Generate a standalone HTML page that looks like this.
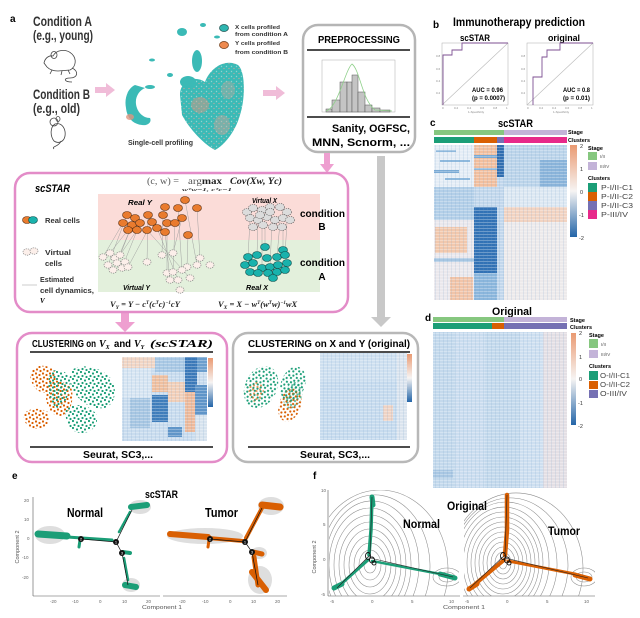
<!DOCTYPE html>
<html><head><meta charset="utf-8"><style>
html,body{margin:0;padding:0;background:#fff;width:640px;height:618px;overflow:hidden;}
svg{display:block;}
text{font-family:"Liberation Sans",sans-serif;}
.b{font-weight:bold;}
.sf{font-family:"Liberation Serif",serif;}
</style></head><body>
<svg width="640" height="618" viewBox="0 0 640 618" xmlns="http://www.w3.org/2000/svg">
<defs>
 <linearGradient id="cb" x1="0" y1="0" x2="0" y2="1">
  <stop offset="0" stop-color="#ea9a72"/>
  <stop offset="0.5" stop-color="#f6f4f3"/>
  <stop offset="1" stop-color="#2465a8"/>
 </linearGradient>
 <pattern id="pg" width="8" height="7" patternUnits="userSpaceOnUse">
  <circle cx="1" cy="1" r="1.1" fill="#1b9e77"/><circle cx="5" cy="2.5" r="1.1" fill="#1b9e77"/>
  <circle cx="2.5" cy="5" r="1.1" fill="#1b9e77"/><circle cx="6.5" cy="6" r="1.1" fill="#1b9e77"/>
 </pattern>
 <pattern id="po" width="7" height="8" patternUnits="userSpaceOnUse">
  <circle cx="2" cy="1.5" r="1.1" fill="#d95f02"/><circle cx="5.5" cy="3" r="1.1" fill="#d95f02"/>
  <circle cx="1" cy="5.5" r="1.1" fill="#d95f02"/><circle cx="4.5" cy="7" r="1.1" fill="#d95f02"/>
 </pattern>
 <pattern id="hs" width="4" height="3" patternUnits="userSpaceOnUse">
  <rect x="0" y="0" width="4" height="0.8" fill="#ffffff" opacity="0.35"/>
  <rect x="3" y="0" width="0.6" height="3" fill="#6d9cc9" opacity="0.25"/>
 </pattern>
 <pattern id="tq" width="5" height="5" patternUnits="userSpaceOnUse">
  <rect width="5" height="5" fill="#3bbab6"/>
  <circle cx="1.5" cy="1.5" r="0.7" fill="#8fd3d0"/><circle cx="4" cy="3.5" r="0.6" fill="#cfa89a"/>
 </pattern>
 <clipPath id="cf1"><rect x="329" y="490" width="130" height="106"/></clipPath>
 <clipPath id="cf2"><rect x="464" y="490" width="131" height="106"/></clipPath>
</defs>

<!-- ================= PANEL a top ================= -->
<text x="10" y="22" class="b" font-size="10">a</text>
<text x="33" y="26" class="b" font-size="14" textLength="59" lengthAdjust="spacingAndGlyphs" fill="#333">Condition A</text>
<text x="33" y="40" class="b" font-size="14" textLength="60" lengthAdjust="spacingAndGlyphs" fill="#333">(e.g., young)</text>
<text x="33" y="99" class="b" font-size="14" textLength="57" lengthAdjust="spacingAndGlyphs" fill="#333">Condition B</text>
<text x="33" y="113" class="b" font-size="14" textLength="47" lengthAdjust="spacingAndGlyphs" fill="#333">(e.g., old)</text>
<!-- mouse 1 -->
<g fill="none" stroke="#444" stroke-width="0.8">
 <path d="M44,63 C45,58 49,55 53,56 C56,50 66,48 72,54 C77,59 76,67 70,70 L58,71 C54,71 50,70 47,67 Z"/>
 <ellipse cx="54" cy="55" rx="3" ry="3.5"/>
 <path d="M52,70 L50,74 M62,71 L61,75 M68,70 L70,74"/>
 <path d="M72,68 C79,71 78,78 70,78 C63,78 64,82 72,82"/>
</g>
<!-- mouse 2 -->
<g fill="none" stroke="#444" stroke-width="0.8">
 <path d="M55,124 C50,127 50,136 54,141 C58,144 64,142 65,136 C66,129 62,122 55,124 Z"/>
 <circle cx="54" cy="122" r="4"/>
 <ellipse cx="58" cy="119" rx="2" ry="2.5"/>
 <path d="M61,141 C59,147 51,146 54,149"/>
</g>
<!-- arrows -->
<path d="M95,87 L106,87 L106,83 L115,90 L106,97 L106,93 L95,93 Z" fill="#f0bcd8"/>
<path d="M263,90 L276,90 L276,86 L285,93 L276,100 L276,96 L263,96 Z" fill="#f0bcd8"/>
<!-- UMAP -->
<g>
 <path d="M180,95 C180,80 195,75 205,82 C210,68 225,58 238,65 C246,72 245,100 240,115 C236,130 225,145 215,150 C205,145 190,130 182,115 Z" fill="url(#tq)"/>
 <path d="M135,85 C128,88 124,98 126,108 C127,118 133,124 142,125 C148,126 152,122 150,118 C143,118 137,112 136,104 C135,96 140,90 145,88 Z" fill="#3bbab6"/>
 <ellipse cx="197" cy="61" rx="5" ry="11" fill="#3bbab6"/>
 <ellipse cx="188" cy="82" rx="8" ry="6" fill="#3bbab6"/>
 <ellipse cx="182" cy="32" rx="5" ry="4" fill="#3bbab6"/>
 <ellipse cx="203" cy="25" rx="3" ry="2" fill="#3bbab6"/>
 <ellipse cx="217" cy="37" rx="3" ry="1.5" fill="#3bbab6"/>
 <ellipse cx="152" cy="60" rx="3" ry="1.5" fill="#3bbab6"/>
 <ellipse cx="170" cy="75" rx="3" ry="2" fill="#3bbab6"/>
 <ellipse cx="150" cy="87" rx="5" ry="2" fill="#3bbab6"/>
 <ellipse cx="200" cy="105" rx="9" ry="8" fill="#e0957f" opacity="0.45"/>
 <ellipse cx="222" cy="125" rx="8" ry="10" fill="#d9a396" opacity="0.4"/>
 <ellipse cx="228" cy="90" rx="7" ry="9" fill="#cfa59a" opacity="0.35"/>
 <ellipse cx="130" cy="117" rx="4" ry="3" fill="#e0957f" opacity="0.8"/>
</g>
<ellipse cx="224" cy="28" rx="4.5" ry="3.5" fill="#2fb5b0" stroke="#1d4f4e" stroke-width="0.7"/>
<ellipse cx="224" cy="45" rx="4.5" ry="3.5" fill="#ee8a4f" stroke="#6b3510" stroke-width="0.7"/>
<text x="235" y="29" class="b" font-size="5.5" textLength="45" lengthAdjust="spacingAndGlyphs" fill="#333">X cells profiled</text>
<text x="235" y="36" class="b" font-size="5.5" textLength="53" lengthAdjust="spacingAndGlyphs" fill="#333">from condition A</text>
<text x="235" y="45" class="b" font-size="5.5" textLength="45" lengthAdjust="spacingAndGlyphs" fill="#333">Y cells profiled</text>
<text x="235" y="54" class="b" font-size="5.5" textLength="53" lengthAdjust="spacingAndGlyphs" fill="#333">from condition B</text>
<text x="128" y="145" class="b" font-size="7" textLength="65" lengthAdjust="spacingAndGlyphs" fill="#333">Single-cell profiling</text>

<!-- PREPROCESSING -->
<rect x="303" y="25" width="112" height="127" rx="15" fill="#fff" stroke="#b5b5b5" stroke-width="2.5"/>
<text x="318" y="43" class="b" font-size="10" textLength="82" lengthAdjust="spacingAndGlyphs">PREPROCESSING</text>
<line x1="307" y1="50" x2="410" y2="50" stroke="#111" stroke-width="1.5"/>
<rect x="322" y="60" width="73" height="52" fill="none" stroke="#aaa" stroke-width="0.5"/>
<g fill="#c4c4c4" stroke="#555" stroke-width="0.5">
 <rect x="326" y="109" width="6" height="3"/>
 <rect x="332" y="100" width="8" height="12"/>
 <rect x="340" y="82" width="7" height="30"/>
 <rect x="347" y="82" width="5" height="30"/>
 <rect x="352" y="75" width="6" height="37"/>
 <rect x="358" y="92" width="7" height="20"/>
 <rect x="365" y="105" width="7" height="7"/>
 <rect x="372" y="108" width="8" height="4"/>
 <rect x="380" y="110" width="10" height="2"/>
</g>
<path d="M326,111 C338,108 345,70 352,64 C360,70 362,100 375,110 L392,111" fill="none" stroke="#8fd08a" stroke-width="0.8"/>
<line x1="307" y1="117" x2="410" y2="117" stroke="#111" stroke-width="1.5"/>
<text x="332" y="132" class="b" font-size="11" textLength="78" lengthAdjust="spacingAndGlyphs">Sanity, OGFSC,</text>
<text x="312" y="146" class="b" font-size="11" textLength="98" lengthAdjust="spacingAndGlyphs">MNN, Scnorm, ...</text>

<!-- arrows down -->
<path d="M324,153 L330,153 L330,164 L334,164 L327,173 L320,164 L324,164 Z" fill="#ee9fd0"/>
<path d="M377,156 L385,156 L385,317 L391,317 L381,327 L371,317 L377,317 Z" fill="#c8c8c8"/>
<path d="M121,313 L129,313 L129,322 L135,322 L125,332 L115,322 L121,322 Z" fill="#ee9fd0"/>

<!-- ================= scSTAR box ================= -->
<rect x="15" y="173" width="333" height="139" rx="15" fill="#fff" stroke="#e38cc8" stroke-width="2.5"/>
<rect x="98" y="194" width="222" height="46" fill="#fbdcd8"/>
<rect x="98" y="240" width="222" height="52" fill="#e3f0dc"/>
<text x="35" y="192" class="b" font-size="11" font-style="italic" textLength="35" lengthAdjust="spacingAndGlyphs">scSTAR</text>
<text x="147" y="184" class="sf" font-size="9" fill="#555" textLength="32" lengthAdjust="spacingAndGlyphs">(c, w) =</text>
<text x="188" y="184" class="sf" font-size="9" fill="#555" textLength="34" lengthAdjust="spacingAndGlyphs">arg<tspan font-weight="bold" fill="#222">max</tspan></text>
<text x="230" y="184" class="sf" font-size="9" font-weight="bold" font-style="italic" fill="#222" textLength="52" lengthAdjust="spacingAndGlyphs">Cov(Xw, Yc)</text>
<text x="182" y="191" class="sf" font-size="4.5" font-weight="bold" font-style="italic" fill="#333" textLength="50" lengthAdjust="spacingAndGlyphs">wᵀw=1, cᵀc=1</text>

<!-- lines orange -> virtual Y -->
<g stroke="#9a9a9a" stroke-width="0.45">
 <line x1="127" y1="215" x2="108" y2="265"/><line x1="135" y1="218" x2="113" y2="270"/>
 <line x1="123" y1="223" x2="103" y2="257"/><line x1="132" y1="225" x2="117" y2="263"/>
 <line x1="140" y1="223" x2="122" y2="268"/><line x1="148" y1="215" x2="147" y2="262"/>
 <line x1="152" y1="222" x2="128" y2="267"/><line x1="163" y1="215" x2="162" y2="255"/>
 <line x1="167" y1="223" x2="167" y2="273"/><line x1="175" y1="223" x2="173" y2="272"/>
 <line x1="182" y1="218" x2="173" y2="253"/><line x1="178" y1="208" x2="182" y2="270"/>
 <line x1="197" y1="208" x2="200" y2="258"/><line x1="185" y1="200" x2="197" y2="265"/>
 <line x1="188" y1="235" x2="187" y2="267"/><line x1="157" y1="228" x2="178" y2="280"/>
 <line x1="165" y1="232" x2="170" y2="280"/><line x1="147" y1="230" x2="190" y2="278"/>
 <line x1="128" y1="230" x2="110" y2="253"/><line x1="137" y1="230" x2="120" y2="255"/>
</g>
<g fill="#e97b2e" stroke="#5e3010" stroke-width="0.6">
 <ellipse cx="185" cy="200" rx="4.5" ry="3.5"/><ellipse cx="165" cy="207" rx="4.5" ry="3.5"/>
 <ellipse cx="178" cy="208" rx="4.5" ry="3.5"/><ellipse cx="197" cy="208" rx="4.5" ry="3.5"/>
 <ellipse cx="127" cy="215" rx="4.5" ry="3.5"/><ellipse cx="135" cy="218" rx="4.5" ry="3.5"/>
 <ellipse cx="148" cy="215" rx="4.5" ry="3.5"/><ellipse cx="163" cy="215" rx="4.5" ry="3.5"/>
 <ellipse cx="182" cy="218" rx="4.5" ry="3.5"/><ellipse cx="123" cy="223" rx="4.5" ry="3.5"/>
 <ellipse cx="132" cy="225" rx="4.5" ry="3.5"/><ellipse cx="140" cy="223" rx="4.5" ry="3.5"/>
 <ellipse cx="152" cy="222" rx="4.5" ry="3.5"/><ellipse cx="167" cy="223" rx="4.5" ry="3.5"/>
 <ellipse cx="175" cy="223" rx="4.5" ry="3.5"/><ellipse cx="128" cy="230" rx="4.5" ry="3.5"/>
 <ellipse cx="137" cy="230" rx="4.5" ry="3.5"/><ellipse cx="147" cy="230" rx="4.5" ry="3.5"/>
 <ellipse cx="157" cy="228" rx="4.5" ry="3.5"/><ellipse cx="165" cy="232" rx="4.5" ry="3.5"/>
 <ellipse cx="188" cy="235" rx="4.5" ry="3.5"/>
</g>
<g fill="#fcefea" stroke="#777" stroke-width="0.6" stroke-dasharray="1.3 0.9">
 <ellipse cx="103" cy="257" rx="4" ry="3.2"/><ellipse cx="110" cy="253" rx="4" ry="3.2"/>
 <ellipse cx="115" cy="258" rx="4" ry="3.2"/><ellipse cx="120" cy="255" rx="4" ry="3.2"/>
 <ellipse cx="108" cy="265" rx="4" ry="3.2"/><ellipse cx="117" cy="263" rx="4" ry="3.2"/>
 <ellipse cx="125" cy="262" rx="4" ry="3.2"/><ellipse cx="113" cy="270" rx="4" ry="3.2"/>
 <ellipse cx="122" cy="268" rx="4" ry="3.2"/><ellipse cx="128" cy="267" rx="4" ry="3.2"/>
 <ellipse cx="147" cy="262" rx="4" ry="3.2"/><ellipse cx="162" cy="255" rx="4" ry="3.2"/>
 <ellipse cx="173" cy="253" rx="4" ry="3.2"/><ellipse cx="200" cy="258" rx="4" ry="3.2"/>
 <ellipse cx="197" cy="265" rx="4" ry="3.2"/><ellipse cx="187" cy="267" rx="4" ry="3.2"/>
 <ellipse cx="210" cy="265" rx="4" ry="3.2"/><ellipse cx="167" cy="273" rx="4" ry="3.2"/>
 <ellipse cx="173" cy="272" rx="4" ry="3.2"/><ellipse cx="182" cy="270" rx="4" ry="3.2"/>
 <ellipse cx="170" cy="280" rx="4" ry="3.2"/><ellipse cx="178" cy="280" rx="4" ry="3.2"/>
 <ellipse cx="190" cy="278" rx="4" ry="3.2"/><ellipse cx="180" cy="290" rx="4" ry="3.2"/>
</g>
<text x="128" y="205" class="b" font-size="7" font-style="italic" textLength="24" lengthAdjust="spacingAndGlyphs">Real Y</text>
<text x="123" y="290" class="b" font-size="7" font-style="italic" textLength="27" lengthAdjust="spacingAndGlyphs">Virtual Y</text>

<g stroke="#9a9a9a" stroke-width="0.45">
 <line x1="250" y1="220" x2="248" y2="257"/><line x1="258" y1="222" x2="257" y2="255"/>
 <line x1="265" y1="225" x2="265" y2="247"/><line x1="272" y1="222" x2="270" y2="267"/>
 <line x1="280" y1="222" x2="277" y2="257"/><line x1="287" y1="222" x2="285" y2="255"/>
 <line x1="262" y1="227" x2="262" y2="268"/><line x1="283" y1="227" x2="283" y2="250"/>
</g>
<g fill="#dcdcdc" stroke="#555" stroke-width="0.6" stroke-dasharray="1.3 0.9">
 <ellipse cx="247" cy="212" rx="4.5" ry="3.5"/><ellipse cx="253" cy="208" rx="4.5" ry="3.5"/>
 <ellipse cx="262" cy="210" rx="4.5" ry="3.5"/><ellipse cx="270" cy="207" rx="4.5" ry="3.5"/>
 <ellipse cx="280" cy="207" rx="4.5" ry="3.5"/><ellipse cx="287" cy="212" rx="4.5" ry="3.5"/>
 <ellipse cx="250" cy="218" rx="4.5" ry="3.5"/><ellipse cx="258" cy="220" rx="4.5" ry="3.5"/>
 <ellipse cx="267" cy="217" rx="4.5" ry="3.5"/><ellipse cx="275" cy="220" rx="4.5" ry="3.5"/>
 <ellipse cx="283" cy="218" rx="4.5" ry="3.5"/><ellipse cx="290" cy="220" rx="4.5" ry="3.5"/>
 <ellipse cx="253" cy="227" rx="4.5" ry="3.5"/><ellipse cx="263" cy="225" rx="4.5" ry="3.5"/>
 <ellipse cx="273" cy="227" rx="4.5" ry="3.5"/><ellipse cx="282" cy="227" rx="4.5" ry="3.5"/>
 <ellipse cx="270" cy="212" rx="4.5" ry="3.5"/><ellipse cx="260" cy="215" rx="4.5" ry="3.5"/>
</g>
<g fill="#19b2ac" stroke="#0d4f4d" stroke-width="0.6">
 <ellipse cx="265" cy="247" rx="4.5" ry="3.5"/><ellipse cx="283" cy="250" rx="4.5" ry="3.5"/>
 <ellipse cx="248" cy="257" rx="4.5" ry="3.5"/><ellipse cx="257" cy="255" rx="4.5" ry="3.5"/>
 <ellipse cx="267" cy="258" rx="4.5" ry="3.5"/><ellipse cx="277" cy="257" rx="4.5" ry="3.5"/>
 <ellipse cx="285" cy="255" rx="4.5" ry="3.5"/><ellipse cx="245" cy="265" rx="4.5" ry="3.5"/>
 <ellipse cx="253" cy="263" rx="4.5" ry="3.5"/><ellipse cx="262" cy="268" rx="4.5" ry="3.5"/>
 <ellipse cx="270" cy="267" rx="4.5" ry="3.5"/><ellipse cx="278" cy="265" rx="4.5" ry="3.5"/>
 <ellipse cx="287" cy="263" rx="4.5" ry="3.5"/><ellipse cx="250" cy="272" rx="4.5" ry="3.5"/>
 <ellipse cx="258" cy="273" rx="4.5" ry="3.5"/><ellipse cx="268" cy="273" rx="4.5" ry="3.5"/>
 <ellipse cx="277" cy="272" rx="4.5" ry="3.5"/><ellipse cx="285" cy="270" rx="4.5" ry="3.5"/>
 <ellipse cx="273" cy="278" rx="4.5" ry="3.5"/>
</g>
<text x="252" y="203" class="b" font-size="7" font-style="italic" textLength="25" lengthAdjust="spacingAndGlyphs">Virtual X</text>
<text x="246" y="290" class="b" font-size="7" font-style="italic" textLength="22" lengthAdjust="spacingAndGlyphs">Real X</text>
<text x="300" y="217" class="b" font-size="10" textLength="45" lengthAdjust="spacingAndGlyphs">condition</text>
<text x="322" y="230" class="b" font-size="10" text-anchor="middle">B</text>
<text x="300" y="266" class="b" font-size="10" textLength="45" lengthAdjust="spacingAndGlyphs">condition</text>
<text x="322" y="280" class="b" font-size="10" text-anchor="middle">A</text>
<!-- legend -->
<ellipse cx="27" cy="220" rx="4.5" ry="3.5" fill="#e97b2e" stroke="#5e3010" stroke-width="0.6"/>
<ellipse cx="33" cy="220" rx="4.5" ry="3.5" fill="#19b2ac" stroke="#0d4f4d" stroke-width="0.6"/>
<text x="45" y="223" class="b" font-size="7" textLength="35" lengthAdjust="spacingAndGlyphs" fill="#333">Real cells</text>
<ellipse cx="27" cy="252" rx="4" ry="3.2" fill="#fcefea" stroke="#777" stroke-width="0.6" stroke-dasharray="1.3 0.9"/>
<ellipse cx="34" cy="251" rx="4" ry="3.2" fill="#fcefea" stroke="#777" stroke-width="0.6" stroke-dasharray="1.3 0.9"/>
<text x="45" y="255" class="b" font-size="7" textLength="26" lengthAdjust="spacingAndGlyphs" fill="#333">Virtual</text>
<text x="45" y="266" class="b" font-size="7" textLength="17" lengthAdjust="spacingAndGlyphs" fill="#333">cells</text>
<line x1="22" y1="285" x2="37" y2="285" stroke="#aaa" stroke-width="0.6"/>
<text x="40" y="282" class="b" font-size="7" textLength="34" lengthAdjust="spacingAndGlyphs" fill="#333">Estimated</text>
<text x="40" y="293" class="b" font-size="7" textLength="54" lengthAdjust="spacingAndGlyphs" fill="#333">cell dynamics,</text>
<text x="40" y="303" class="b sf" font-size="7" font-style="italic">V</text>
<text x="110" y="307" class="sf" font-size="8.5" font-weight="bold" font-style="italic" fill="#222">V<tspan font-size="5.5" dy="2">Y</tspan><tspan dy="-2"> = Y − c</tspan><tspan font-size="5" dy="-3">T</tspan><tspan dy="3">(c</tspan><tspan font-size="5" dy="-3">T</tspan><tspan dy="3">c)</tspan><tspan font-size="5" dy="-3">−1</tspan><tspan dy="3">cY</tspan></text>
<text x="218" y="307" class="sf" font-size="8.5" font-weight="bold" font-style="italic" fill="#222">V<tspan font-size="5.5" dy="2">X</tspan><tspan dy="-2"> = X − w</tspan><tspan font-size="5" dy="-3">T</tspan><tspan dy="3">(w</tspan><tspan font-size="5" dy="-3">T</tspan><tspan dy="3">w)</tspan><tspan font-size="5" dy="-3">−1</tspan><tspan dy="3">wX</tspan></text>

<!-- ================= Clustering boxes ================= -->
<rect x="17" y="333" width="210" height="129" rx="15" fill="#fff" stroke="#e38cc8" stroke-width="2.5"/>
<text x="32" y="347" class="b" font-size="10" textLength="64" lengthAdjust="spacingAndGlyphs">CLUSTERING on</text>
<text x="99" y="347" class="sf" font-size="10" font-weight="bold" font-style="italic">V<tspan font-size="6" dy="2">X</tspan></text>
<text x="114" y="347" class="b" font-size="10" textLength="17" lengthAdjust="spacingAndGlyphs">and</text>
<text x="134" y="347" class="sf" font-size="10" font-weight="bold" font-style="italic">V<tspan font-size="6" dy="2">Y</tspan></text>
<text x="150" y="347" class="sf" font-size="10" font-weight="bold" font-style="italic" textLength="63" lengthAdjust="spacingAndGlyphs">(scSTAR)</text>
<line x1="30" y1="352" x2="213" y2="352" stroke="#111" stroke-width="1.5"/>
<!-- tSNE scatter -->
<path d="M30,372 C34,364 48,364 54,370 C58,378 56,390 48,393 C38,394 30,386 30,372 Z" fill="url(#po)"/>
<path d="M24,415 C26,408 40,407 48,412 C52,418 48,428 38,429 C28,429 23,422 24,415 Z" fill="url(#po)"/>
<path d="M46,384 C52,378 68,380 72,390 C74,402 70,414 60,416 C50,416 44,404 46,384 Z" fill="url(#po)"/>
<path d="M72,370 C82,362 104,368 112,380 C118,392 114,406 104,408 C92,410 80,402 74,392 C70,384 68,376 72,370 Z" fill="url(#pg)"/>
<path d="M66,410 C72,402 90,404 96,414 C100,424 92,434 80,433 C70,432 64,420 66,410 Z" fill="url(#pg)"/>
<path d="M50,372 C56,368 66,370 70,378 C72,390 66,404 58,408 C50,406 46,388 50,372 Z" fill="url(#pg)"/>
<!-- heatmap 1 -->
<rect x="122" y="357" width="85" height="84" fill="#c9dcee"/>
<rect x="122" y="357" width="33" height="11" fill="#f1d5c4"/>
<rect x="122" y="368" width="30" height="30" fill="#d7e5f2"/>
<rect x="155" y="357" width="30" height="15" fill="#a9c8e4"/>
<rect x="185" y="357" width="12" height="35" fill="#3a78b8"/>
<rect x="197" y="357" width="10" height="15" fill="#6c9fce"/>
<rect x="152" y="375" width="16" height="17" fill="#efbf9f"/>
<rect x="168" y="382" width="17" height="20" fill="#f2cfb8"/>
<rect x="152" y="395" width="16" height="27" fill="#3f7dbb"/>
<rect x="185" y="392" width="10" height="40" fill="#eeb99a"/>
<rect x="195" y="385" width="12" height="30" fill="#5e94c8"/>
<rect x="130" y="398" width="20" height="30" fill="#a7c6e2"/>
<rect x="168" y="427" width="14" height="10" fill="#5f95c8"/>
<rect x="195" y="415" width="12" height="26" fill="#d7e3ee"/>
<rect x="122" y="357" width="85" height="84" fill="url(#hs)"/>
<rect x="208" y="358" width="5" height="49" fill="url(#cb)"/>
<line x1="30" y1="447" x2="213" y2="447" stroke="#111" stroke-width="1.5"/>
<text x="83" y="458" class="b" font-size="10" textLength="70" lengthAdjust="spacingAndGlyphs">Seurat, SC3,...</text>

<rect x="233" y="333" width="185" height="129" rx="15" fill="#fff" stroke="#b8b8b8" stroke-width="2.5"/>
<text x="248" y="347" class="b" font-size="10" textLength="162" lengthAdjust="spacingAndGlyphs">CLUSTERING on X and Y (original)</text>
<line x1="248" y1="352" x2="410" y2="352" stroke="#111" stroke-width="1.5"/>
<ellipse cx="261" cy="387" rx="16" ry="22" transform="rotate(25 261 387)" fill="url(#pg)"/>
<ellipse cx="256" cy="392" rx="8" ry="10" fill="url(#po)" opacity="0.6"/>
<ellipse cx="293" cy="384" rx="12" ry="18" transform="rotate(20 293 384)" fill="url(#pg)"/>
<ellipse cx="290" cy="405" rx="11" ry="17" transform="rotate(20 290 405)" fill="url(#po)"/>
<ellipse cx="293" cy="395" rx="9" ry="14" transform="rotate(20 293 395)" fill="url(#pg)" opacity="0.7"/>
<rect x="320" y="353" width="87" height="87" fill="#c7dbee"/>
<rect x="320" y="353" width="87" height="28" fill="#cfe0f0"/>
<rect x="383" y="405" width="10" height="16" fill="#efd3c4"/>
<rect x="397" y="353" width="10" height="87" fill="#dbe4ee"/>
<rect x="320" y="353" width="87" height="87" fill="url(#hs)"/>
<rect x="407" y="354" width="5" height="48" fill="url(#cb)"/>
<line x1="248" y1="447" x2="410" y2="447" stroke="#111" stroke-width="1.5"/>
<text x="300" y="458" class="b" font-size="10" textLength="70" lengthAdjust="spacingAndGlyphs">Seurat, SC3,...</text>

<!-- ================= Panel b ================= -->
<text x="433" y="28" class="b" font-size="10">b</text>
<text x="453" y="26" class="b" font-size="12" textLength="132" lengthAdjust="spacingAndGlyphs">Immunotherapy prediction</text>
<text x="460" y="41" class="b" font-size="9.5" textLength="30" lengthAdjust="spacingAndGlyphs">scSTAR</text>
<text x="548" y="41" class="b" font-size="9.5" textLength="32" lengthAdjust="spacingAndGlyphs">original</text>
<rect x="442" y="43" width="66" height="62" fill="none" stroke="#aaa" stroke-width="0.5"/>
<line x1="442" y1="105" x2="508" y2="43" stroke="#bbb" stroke-width="0.6"/>
<path d="M443,105 L443,55 L452,55 L452,50 L462,50 L462,43 L508,43" fill="none" stroke="#7d4f92" stroke-width="0.9"/>
<text x="472" y="92" class="b" font-size="6" textLength="31" lengthAdjust="spacingAndGlyphs">AUC = 0.96</text>
<text x="472" y="100" class="b" font-size="6" textLength="33" lengthAdjust="spacingAndGlyphs">(p = 0.0007)</text>
<rect x="527" y="43" width="66" height="62" fill="none" stroke="#aaa" stroke-width="0.5"/>
<line x1="527" y1="105" x2="593" y2="43" stroke="#bbb" stroke-width="0.6"/>
<path d="M533,105 L533,77 L542,77 L542,57 L547,57 L547,50 L560,50 L560,43 L593,43" fill="none" stroke="#7d4f92" stroke-width="0.9"/>
<text x="563" y="92" class="b" font-size="6" textLength="27" lengthAdjust="spacingAndGlyphs">AUC = 0.8</text>
<text x="563" y="100" class="b" font-size="6" textLength="27" lengthAdjust="spacingAndGlyphs">(p = 0.01)</text>
<g font-size="3" fill="#888">
 <text x="442" y="109">0</text><text x="454" y="109">0.2</text><text x="467" y="109">0.4</text><text x="480" y="109">0.6</text><text x="493" y="109">0.8</text><text x="506" y="109">1</text>
 <text x="468" y="113">1-Specificity</text>
 <text x="527" y="109">0</text><text x="539" y="109">0.2</text><text x="552" y="109">0.4</text><text x="565" y="109">0.6</text><text x="578" y="109">0.8</text><text x="591" y="109">1</text>
 <text x="553" y="113">1-Specificity</text>
 <text x="436" y="57">0.8</text><text x="436" y="70">0.6</text><text x="436" y="82">0.4</text><text x="436" y="94">0.2</text>
 <text x="521" y="57">0.8</text><text x="521" y="70">0.6</text><text x="521" y="82">0.4</text><text x="521" y="94">0.2</text>
</g>

<!-- ================= Panel c ================= -->
<text x="430" y="126" class="b" font-size="10">c</text>
<text x="498" y="127" class="b" font-size="11" textLength="35" lengthAdjust="spacingAndGlyphs">scSTAR</text>
<rect x="434" y="130" width="70" height="5" fill="#86c77f"/>
<rect x="504" y="130" width="63" height="5" fill="#c3b3d8"/>
<rect x="434" y="137" width="40" height="6" fill="#1b9e77"/>
<rect x="474" y="137" width="23" height="6" fill="#d95f02"/>
<rect x="497" y="137" width="7" height="6" fill="#7570b3"/>
<rect x="504" y="137" width="63" height="6" fill="#e7298a"/>
<text x="568" y="134" class="b" font-size="5.5">Stage</text>
<text x="568" y="142" class="b" font-size="5.5">Clusters</text>
<rect x="434" y="145" width="133" height="155" fill="#dfe9f3"/>
<rect x="434" y="145" width="40" height="42" fill="#e5edf6"/>
<rect x="436" y="150" width="20" height="2" fill="#8fb9dd"/><rect x="440" y="160" width="30" height="2" fill="#8fb9dd"/>
<rect x="434" y="170" width="25" height="3" fill="#7aaad5"/><rect x="445" y="178" width="25" height="2" fill="#8fb9dd"/>
<rect x="434" y="187" width="40" height="33" fill="#b3cfe8"/>
<rect x="434" y="220" width="40" height="80" fill="#ebe8ec"/>
<rect x="435" y="227" width="32" height="26" fill="#f2c8ad"/>
<rect x="450" y="277" width="23" height="23" fill="#f2c4a8"/>
<rect x="434" y="258" width="40" height="4" fill="#a7c6e2"/>
<rect x="474" y="145" width="23" height="42" fill="#f3bf9e"/>
<rect x="474" y="155" width="23" height="3" fill="#7aaad5"/><rect x="474" y="168" width="23" height="2" fill="#8fb9dd"/>
<rect x="474" y="187" width="23" height="20" fill="#c3d8ec"/>
<rect x="474" y="207" width="23" height="66" fill="#3272b5"/>
<rect x="474" y="273" width="23" height="27" fill="#8bb6dc"/>
<rect x="497" y="145" width="7" height="32" fill="#2f6db0"/>
<rect x="497" y="177" width="7" height="123" fill="#c2d7ec"/>
<rect x="504" y="145" width="63" height="42" fill="#bcd4ea"/>
<rect x="540" y="160" width="27" height="27" fill="#8ab4da"/>
<rect x="504" y="187" width="63" height="20" fill="#dde8f2"/>
<rect x="504" y="207" width="63" height="15" fill="#f2d3c1"/>
<rect x="504" y="222" width="63" height="78" fill="#edeaeb"/>
<rect x="434" y="145" width="133" height="155" fill="url(#hs)"/>
<rect x="570" y="145" width="7" height="92" fill="url(#cb)"/>
<g font-size="5.5" fill="#333"><text x="580" y="148">2</text><text x="580" y="171">1</text><text x="580" y="194">0</text><text x="579" y="217">-1</text><text x="579" y="240">-2</text></g>
<text x="588" y="150" class="b" font-size="5.5">Stage</text>
<rect x="588" y="152" width="9" height="8" fill="#86c77f"/><text x="600" y="158" font-size="4.5" fill="#555">I/II</text>
<rect x="588" y="162" width="9" height="8" fill="#c3b3d8"/><text x="600" y="168" font-size="4.5" fill="#555">III/IV</text>
<text x="588" y="180" class="b" font-size="5.5">Clusters</text>
<rect x="588" y="183" width="9" height="9" fill="#1b9e77"/><text x="601" y="190" font-size="7" fill="#444" textLength="32" lengthAdjust="spacingAndGlyphs">P-I/II-C1</text>
<rect x="588" y="192" width="9" height="9" fill="#d95f02"/><text x="601" y="199" font-size="7" fill="#444" textLength="32" lengthAdjust="spacingAndGlyphs">P-I/II-C2</text>
<rect x="588" y="201" width="9" height="9" fill="#7570b3"/><text x="601" y="208" font-size="7" fill="#444" textLength="32" lengthAdjust="spacingAndGlyphs">P-I/II-C3</text>
<rect x="588" y="210" width="9" height="9" fill="#e7298a"/><text x="601" y="217" font-size="7" fill="#444" textLength="27" lengthAdjust="spacingAndGlyphs">P-III/IV</text>

<!-- ================= Panel d ================= -->
<text x="425" y="321" class="b" font-size="10">d</text>
<text x="492" y="315" class="b" font-size="11" textLength="40" lengthAdjust="spacingAndGlyphs">Original</text>
<rect x="433" y="317" width="71" height="5" fill="#86c77f"/>
<rect x="504" y="317" width="63" height="5" fill="#c3b3d8"/>
<rect x="433" y="323" width="59" height="6" fill="#1b9e77"/>
<rect x="492" y="323" width="12" height="6" fill="#d95f02"/>
<rect x="504" y="323" width="63" height="6" fill="#7570b3"/>
<text x="570" y="322" class="b" font-size="5.5">Stage</text>
<text x="570" y="329" class="b" font-size="5.5">Clusters</text>
<rect x="433" y="332" width="134" height="156" fill="#c4d9ec"/>
<rect x="455" y="332" width="30" height="156" fill="#cbddef"/>
<rect x="520" y="332" width="23" height="156" fill="#cedff0"/>
<rect x="543" y="332" width="24" height="156" fill="#e4dfe4"/>
<rect x="433" y="470" width="20" height="8" fill="#a9c7e3"/>
<rect x="433" y="332" width="134" height="156" fill="url(#hs)"/>
<rect x="571" y="333" width="5" height="92" fill="url(#cb)"/>
<g font-size="5.5" fill="#333"><text x="579" y="335">2</text><text x="579" y="359">1</text><text x="579" y="381">0</text><text x="578" y="405">-1</text><text x="578" y="428">-2</text></g>
<text x="589" y="337" class="b" font-size="5.5">Stage</text>
<rect x="589" y="339" width="9" height="9" fill="#86c77f"/><text x="601" y="346" font-size="4.5" fill="#555">I/II</text>
<rect x="589" y="350" width="9" height="8" fill="#c3b3d8"/><text x="601" y="356" font-size="4.5" fill="#555">III/IV</text>
<text x="589" y="368" class="b" font-size="5.5">Clusters</text>
<rect x="589" y="371" width="9" height="9" fill="#1b9e77"/><text x="600" y="378" font-size="7" fill="#444" textLength="30" lengthAdjust="spacingAndGlyphs">O-I/II-C1</text>
<rect x="589" y="381" width="9" height="8" fill="#d95f02"/><text x="600" y="387" font-size="7" fill="#444" textLength="30" lengthAdjust="spacingAndGlyphs">O-I/II-C2</text>
<rect x="589" y="390" width="9" height="8" fill="#7570b3"/><text x="600" y="396" font-size="7" fill="#444" textLength="27" lengthAdjust="spacingAndGlyphs">O-III/IV</text>

<!-- ================= Panel e ================= -->
<text x="12" y="479" class="b" font-size="10">e</text>
<text x="145" y="498" class="b" font-size="11" textLength="33" lengthAdjust="spacingAndGlyphs">scSTAR</text>
<line x1="33" y1="497" x2="33" y2="596" stroke="#555" stroke-width="0.6"/>
<line x1="33" y1="596" x2="160" y2="596" stroke="#555" stroke-width="0.6"/>
<line x1="163" y1="596" x2="287" y2="596" stroke="#555" stroke-width="0.6"/>
<g font-size="4.5" fill="#666">
 <text x="24" y="502">20</text><text x="24" y="521">10</text><text x="27" y="540">0</text><text x="22" y="559">-10</text><text x="22" y="579">-20</text>
 <text x="50" y="603">-20</text><text x="72" y="603">-10</text><text x="99" y="603">0</text><text x="122" y="603">10</text><text x="146" y="603">20</text>
 <text x="179" y="603">-20</text><text x="202" y="603">-10</text><text x="229" y="603">0</text><text x="251" y="603">10</text><text x="275" y="603">20</text>
</g>
<text x="142" y="609" font-size="5.5" fill="#555" textLength="40" lengthAdjust="spacingAndGlyphs">Component 1</text>
<text transform="translate(19,547) rotate(-90)" text-anchor="middle" font-size="5.5" fill="#555">Component 2</text>
<text x="67" y="517" class="b" font-size="13" textLength="36" lengthAdjust="spacingAndGlyphs">Normal</text>
<text x="205" y="517" class="b" font-size="13" textLength="33" lengthAdjust="spacingAndGlyphs">Tumor</text>
<!-- normal green -->
<g fill="#d6d6d6" opacity="0.8">
 <ellipse cx="50" cy="535" rx="15" ry="9"/><ellipse cx="140" cy="507" rx="11" ry="7"/><ellipse cx="131" cy="585" rx="9" ry="7"/>
</g>
<g stroke="#1b9e77" stroke-linecap="round" fill="none">
 <path d="M38,534 L67,536" stroke-width="7"/>
 <path d="M67,537 L112,540" stroke-width="3"/>
 <path d="M80,540 L79,547" stroke-width="3"/>
 <path d="M119,532 L130,512" stroke-width="2.5" stroke-dasharray="2 1.5"/>
 <path d="M131,507 L147,505" stroke-width="6"/>
 <path d="M124,558 L128,580" stroke-width="2.5"/>
 <path d="M125,585 L136,587" stroke-width="6"/>
 <path d="M123,552 L130,553" stroke-width="4"/>
</g>
<g stroke="#111" stroke-width="0.7" fill="none"><path d="M81,539 L116,542 L132,510 M116,542 L122,553 L128,585"/></g>
<g fill="#111"><circle cx="81" cy="539" r="3"/><circle cx="116" cy="542" r="3"/><circle cx="122" cy="553" r="3"/></g>
<g font-size="4" fill="#fff" text-anchor="middle"><text x="81" y="540.5">2</text><text x="116" y="543.5">1</text><text x="122" y="554.5">3</text></g>
<!-- tumor orange -->
<g fill="#d6d6d6" opacity="0.8">
 <ellipse cx="205" cy="536" rx="38" ry="8"/><ellipse cx="271" cy="506" rx="13" ry="9"/><ellipse cx="260" cy="580" rx="12" ry="14"/><ellipse cx="259" cy="553" rx="8" ry="6"/>
</g>
<g stroke="#d95f02" stroke-linecap="round" fill="none">
 <path d="M170,534 L208,537" stroke-width="6"/>
 <path d="M208,538 L243,541" stroke-width="4"/>
 <path d="M209,540 L208,547" stroke-width="3"/>
 <path d="M246,538 L262,508" stroke-width="4"/>
 <path d="M262,505 L280,507" stroke-width="7"/>
 <path d="M254,557 L258,585" stroke-width="5"/>
 <path d="M252,572 L266,590" stroke-width="6"/>
 <path d="M253,552 L262,554" stroke-width="5"/>
</g>
<g stroke="#111" stroke-width="0.7" fill="none"><path d="M210,539 L245,542 L262,508 M245,542 L252,552 L258,585"/></g>
<g fill="#111"><circle cx="210" cy="539" r="3"/><circle cx="245" cy="542" r="3"/><circle cx="252" cy="552" r="3"/></g>
<g font-size="4" fill="#fff" text-anchor="middle"><text x="210" y="540.5">2</text><text x="245" y="543.5">1</text><text x="252" y="553.5">3</text></g>

<!-- ================= Panel f ================= -->
<text x="313" y="479" class="b" font-size="10">f</text>
<line x1="328" y1="490" x2="328" y2="596" stroke="#555" stroke-width="0.6"/>
<line x1="328" y1="596" x2="460" y2="596" stroke="#555" stroke-width="0.6"/>
<line x1="463" y1="596" x2="595" y2="596" stroke="#555" stroke-width="0.6"/>
<g font-size="4.5" fill="#666">
 <text x="321" y="492">10</text><text x="323" y="526">5</text><text x="323" y="561">0</text><text x="321" y="596">-5</text>
 <text x="330" y="603">-5</text><text x="371" y="603">0</text><text x="411" y="603">5</text><text x="449" y="603">10</text>
 <text x="465" y="603">-5</text><text x="506" y="603">0</text><text x="546" y="603">5</text><text x="584" y="603">10</text>
</g>
<text x="443" y="609" font-size="5.5" fill="#555" textLength="42" lengthAdjust="spacingAndGlyphs">Component 1</text>
<text transform="translate(316,557) rotate(-90)" text-anchor="middle" font-size="5.5" fill="#555">Component 2</text>
<g clip-path="url(#cf1)" fill="none" stroke="#8c8c8c" stroke-width="0.55">
 <ellipse cx="370" cy="565" rx="6" ry="8"/><ellipse cx="370" cy="565" rx="11" ry="15"/>
 <ellipse cx="370" cy="565" rx="16" ry="22"/><ellipse cx="370" cy="565" rx="21" ry="29"/>
 <ellipse cx="370" cy="565" rx="26" ry="36"/><ellipse cx="370" cy="565" rx="31" ry="43"/>
 <ellipse cx="370" cy="565" rx="36" ry="50"/>
 <path d="M335.6,596 A41,57 0 1 1 404.4,596"/>
 <path d="M330.9,596 A47,64 0 1 1 413.1,596"/>
 <path d="M324.7,596 A55,72 0 1 1 425.3,596"/>
 <path d="M315.7,596 A68,80 0 1 1 444.3,596"/>
 <ellipse cx="447" cy="577" rx="8" ry="5"/><ellipse cx="447" cy="577" rx="14" ry="9"/>
</g>
<g clip-path="url(#cf2)" fill="none" stroke="#8c8c8c" stroke-width="0.55">
 <ellipse cx="503" cy="563" rx="4" ry="6"/><ellipse cx="503" cy="563" rx="8" ry="11"/>
 <ellipse cx="503" cy="563" rx="12" ry="16"/><ellipse cx="503" cy="563" rx="16" ry="21"/>
 <ellipse cx="503" cy="563" rx="20" ry="26"/><ellipse cx="503" cy="563" rx="24" ry="31"/>
 <ellipse cx="503" cy="563" rx="28" ry="36"/><ellipse cx="503" cy="563" rx="32" ry="41"/>
 <ellipse cx="503" cy="563" rx="36" ry="46"/><ellipse cx="503" cy="563" rx="40" ry="51"/>
 <path d="M467.6,596 A45,56 0 1 1 540.4,596"/>
 <path d="M462.3,596 A51,62 0 1 1 549.7,596"/>
 <path d="M458,596 A58,68 0 1 1 562,596"/>
 <path d="M453.4,596 A67,76 0 1 1 578.6,596"/>
 <ellipse cx="584" cy="577" rx="8" ry="5"/><ellipse cx="584" cy="577" rx="13" ry="9"/>
</g>
<text x="447" y="510" class="b" font-size="11.5" textLength="40" lengthAdjust="spacingAndGlyphs">Original</text>
<text x="403" y="528" class="b" font-size="11.5" textLength="37" lengthAdjust="spacingAndGlyphs">Normal</text>
<text x="548" y="535" class="b" font-size="11.5" textLength="32" lengthAdjust="spacingAndGlyphs">Tumor</text>
<g stroke="#1b9e77" stroke-linecap="round" fill="none">
 <path d="M372,497 L371,530 L369,555" stroke-width="3.5"/>
 <path d="M372,497 L373,505" stroke-width="5"/>
 <path d="M368,560 L340,585" stroke-width="3"/>
 <path d="M334,588 L342,584" stroke-width="5"/>
 <path d="M372,561 L440,574" stroke-width="2.5"/>
 <path d="M440,574 L455,578" stroke-width="5"/>
</g>
<path d="M372,497 L370,555 L337,588 M370,558 L453,577" stroke="#222" stroke-width="0.6" fill="none"/>
<g fill="none" stroke="#111" stroke-width="0.9"><ellipse cx="368" cy="556" rx="2.5" ry="3.5"/><ellipse cx="372" cy="560" rx="2.5" ry="3"/><circle cx="374" cy="563" r="2"/></g>
<g stroke="#d95f02" stroke-linecap="round" fill="none">
 <path d="M507,495 L507,530 L505,555" stroke-width="4.5"/>
 <path d="M504,560 L474,585" stroke-width="4"/>
 <path d="M469,589 L477,584" stroke-width="5"/>
 <path d="M508,561 L575,574" stroke-width="3"/>
 <path d="M575,575 L590,579" stroke-width="5"/>
</g>
<path d="M507,495 L505,555 L470,588 M505,558 L588,578" stroke="#222" stroke-width="0.6" fill="none"/>
<g fill="none" stroke="#111" stroke-width="0.9"><ellipse cx="503" cy="556" rx="2.5" ry="3.5"/><ellipse cx="507" cy="560" rx="2.5" ry="3"/><circle cx="509" cy="563" r="2"/></g>
</svg>
</body></html>
